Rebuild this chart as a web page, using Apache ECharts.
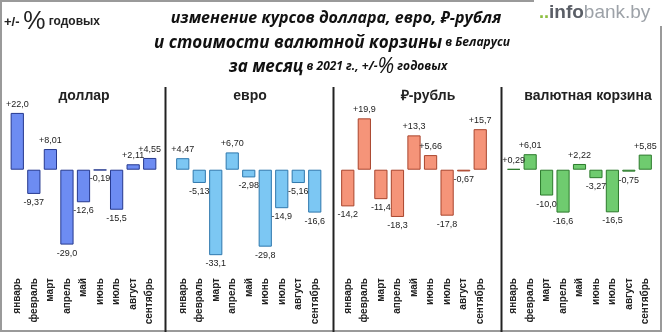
<!DOCTYPE html>
<html>
<head>
<meta charset="utf-8">
<script src="https://cdn.jsdelivr.net/npm/echarts@6/dist/echarts.min.js"></script>
<style>
  html, body { margin: 0; padding: 0; background: #fff; }
  #chart { width: 662px; height: 332px; }
</style>
</head>
<body>
<div id="chart"></div>
<script>
// Months of 2021 (January–September)
const months = ['январь', 'февраль', 'март', 'апрель', 'май', 'июнь', 'июль', 'август', 'сентябрь'];

// Monthly change, +/- % annualised
const usd    = [22.0, -9.37, 8.01, -29.0, -12.6, -0.19, -15.5, 2.11, 4.55];
const eur    = [4.47, -5.13, -33.1, 6.70, -2.98, -29.8, -14.9, -5.16, -16.6];
const rub    = [-14.2, 19.9, -11.4, -18.3, 13.3, 5.66, -17.8, -0.67, 15.7];
const basket = [0.29, 6.01, -10.0, -16.6, 2.22, -3.27, -16.5, -0.75, 5.85];

const panelTitles = ['доллар', 'евро', '₽-рубль', 'валютная корзина'];

const panels = [
  { data: usd,    left: 9,     width: 149, fill: '#6d8cf2', edge: '#26398f', titleX: 84 },
  { data: eur,    left: 174.5, width: 148.5, fill: '#7cc7f3', edge: '#2f78ad', titleX: 250 },
  { data: rub,    left: 339.5, width: 149, fill: '#f59479', edge: '#a9452d', titleX: 428 },
  { data: basket, left: 505.5, width: 148, fill: '#6fcb6f', edge: '#2c7a2c', titleX: 588 }
];

function fmt(v) {
  const a = Math.abs(v);
  const s = (a >= 10 ? a.toFixed(1) : a.toFixed(2)).replace('.', ',');
  return (v >= 0 ? '+' : '-') + s;
}

const grids = [], xAxes = [], yAxes = [], series = [];
panels.forEach((p, i) => {
  grids.push({ left: p.left, width: p.width, top: 100, height: 173 });
  xAxes.push({
    type: 'category', gridIndex: i, data: months, position: 'bottom',
    axisLine: { show: false }, axisTick: { show: false },
    axisLabel: {
      rotate: 90, interval: 0, margin: 5,
      fontFamily: 'Liberation Sans, Arial, sans-serif',
      fontSize: 10, fontWeight: 'bold', color: '#222'
    }
  });
  yAxes.push({
    type: 'value', gridIndex: i, min: -40, max: 27, show: false,
    splitLine: { show: false }
  });
  series.push({
    type: 'bar', xAxisIndex: i, yAxisIndex: i,
    barCategoryGap: '20%',
    itemStyle: { color: p.fill, borderColor: p.edge, borderWidth: 1 },
    label: {
      show: true, distance: 4,
      fontFamily: 'Liberation Sans, Arial, sans-serif',
      fontSize: 9, color: '#222',
      formatter: (q) => fmt(q.value)
    },
    data: p.data.map(v => ({ value: v, label: { position: v >= 0 ? 'top' : 'bottom' } })),
    animation: false
  });
});

const titleFont = 'Open Sans, Noto Sans, sans-serif';

const graphics = [
  // outer frame
  { type: 'rect', shape: { x: 1, y: 1, width: 660, height: 330 },
    style: { fill: 'none', stroke: '#9a9a9a', lineWidth: 2 }, z: 1 },
  // panel dividers
  ...[165.5, 333.5, 501.5].map(x => ({
    type: 'line', shape: { x1: x, y1: 87, x2: x, y2: 332 },
    style: { stroke: '#222', lineWidth: 2 }, z: 2
  })),
  // logo box
  { type: 'rect', shape: { x: 534, y: 0, width: 128, height: 26 },
    style: { fill: '#fff' }, z: 3 },
  { type: 'text', x: 539, y: 13, z: 4,
    style: {
      text: '{d|..}{a|info}{b|bank.by}', verticalAlign: 'middle',
      rich: {
        d: { fontSize: 18, fontWeight: 'bold', fill: '#8cbf3f', fontFamily: 'Liberation Sans, Arial, sans-serif' },
        a: { fontSize: 19, fontWeight: 'bold', fill: '#5a5e66', fontFamily: 'Liberation Sans, Arial, sans-serif' },
        b: { fontSize: 19, fill: '#9da2a8', fontFamily: 'Liberation Sans, Arial, sans-serif' }
      }
    }
  },
  // unit note, top left
  { type: 'text', x: 4, y: 22, z: 4,
    style: {
      text: '{s|+/- }{p|%}{t| годовых}', verticalAlign: 'middle',
      rich: {
        s: { fontSize: 13, fontWeight: 'bold', fill: '#222', fontFamily: 'Liberation Sans, Arial, sans-serif' },
        p: { fontSize: 25, fill: '#222', fontFamily: 'Liberation Sans, Arial, sans-serif' },
        t: { fontSize: 12, fontWeight: 'bold', fill: '#222', fontFamily: 'Liberation Sans, Arial, sans-serif' }
      }
    }
  },
  // main title
  { type: 'text', x: 336, y: 18, z: 4,
    style: {
      text: 'изменение курсов доллара, евро, ₽-рубля', align: 'center', verticalAlign: 'middle',
      fontSize: 16, fontWeight: 'bold', fontStyle: 'italic', fill: '#111', fontFamily: titleFont
    }
  },
  { type: 'text', x: 332, y: 43, z: 4,
    style: {
      text: '{b|и стоимости валютной корзины}{s| в Беларуси}', align: 'center', verticalAlign: 'middle',
      rich: {
        b: { fontSize: 17, fontWeight: 'bold', fontStyle: 'italic', fill: '#111', fontFamily: titleFont },
        s: { fontSize: 12, fontWeight: 'bold', fontStyle: 'italic', fill: '#111', fontFamily: titleFont }
      }
    }
  },
  { type: 'text', x: 338, y: 67, z: 4,
    style: {
      text: '{b|за месяц}{s| в 2021 г., +/-}{p|%}{s| годовых}', align: 'center', verticalAlign: 'middle',
      rich: {
        b: { fontSize: 17, fontWeight: 'bold', fontStyle: 'italic', fill: '#111', fontFamily: titleFont },
        s: { fontSize: 12, fontWeight: 'bold', fontStyle: 'italic', fill: '#111', fontFamily: titleFont },
        p: { fontSize: 21, fontStyle: 'italic', fill: '#111', fontFamily: titleFont }
      }
    }
  },
  // panel titles
  ...panels.map((p, i) => ({
    type: 'text', x: p.titleX, y: 96, z: 4,
    style: {
      text: panelTitles[i], align: 'center', verticalAlign: 'middle',
      fontSize: 14, fontWeight: 'bold', fill: '#222',
      fontFamily: 'Liberation Sans, Arial, sans-serif'
    }
  }))
];

const chart = echarts.init(document.getElementById('chart'), null, { renderer: 'canvas' });
chart.setOption({
  animation: false,
  backgroundColor: '#fff',
  grid: grids,
  xAxis: xAxes,
  yAxis: yAxes,
  series: series,
  graphic: graphics
});
</script>
</body>
</html>
